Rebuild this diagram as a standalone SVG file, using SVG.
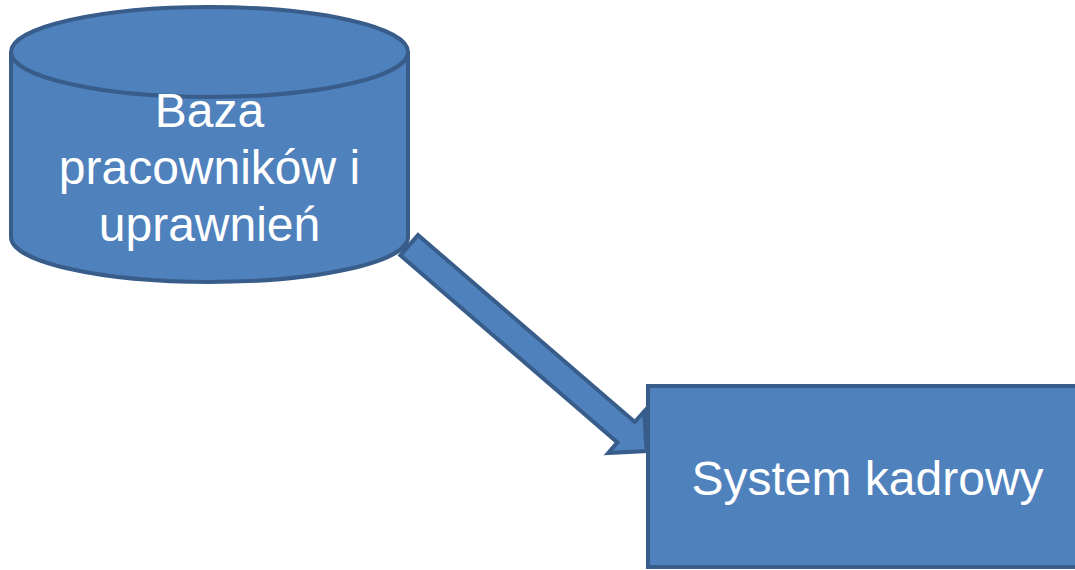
<svg xmlns="http://www.w3.org/2000/svg" width="1075" height="570" viewBox="0 0 1075 570">
<style>
.shape{fill:#4F81BD;stroke:#385D8A;stroke-width:4;stroke-linejoin:miter}
.lbl{font-family:"Liberation Sans",Arial,sans-serif;font-size:48px;fill:#FFFFFF;text-anchor:middle}
</style>
<rect width="1075" height="570" fill="#FFFFFF"/>
<g id="connectors">
<polygon class="shape" points="418,235 634.8,422 644.2,411.4 646.6,451 608.2,453 617.4,442.4 400.4,255.4"/>
</g>
<g id="node-baza">
<path class="shape" d="M11,52 A198.5,45 0 0 1 408,52 L408,237 A198.5,45 0 0 1 11,237 Z"/>
<path class="shape" style="fill:none" d="M11,52 A198.5,45 0 0 0 408,52"/>
<text class="lbl" x="209.5" y="127">Baza</text>
<text class="lbl" x="209.5" y="184">pracowników i</text>
<text class="lbl" x="209.5" y="241">uprawnień</text>
</g>
<g id="node-system">
<rect class="shape" x="648" y="386" width="445" height="181"/>
<text class="lbl" x="867.5" y="495">System kadrowy</text>
</g>
</svg>
